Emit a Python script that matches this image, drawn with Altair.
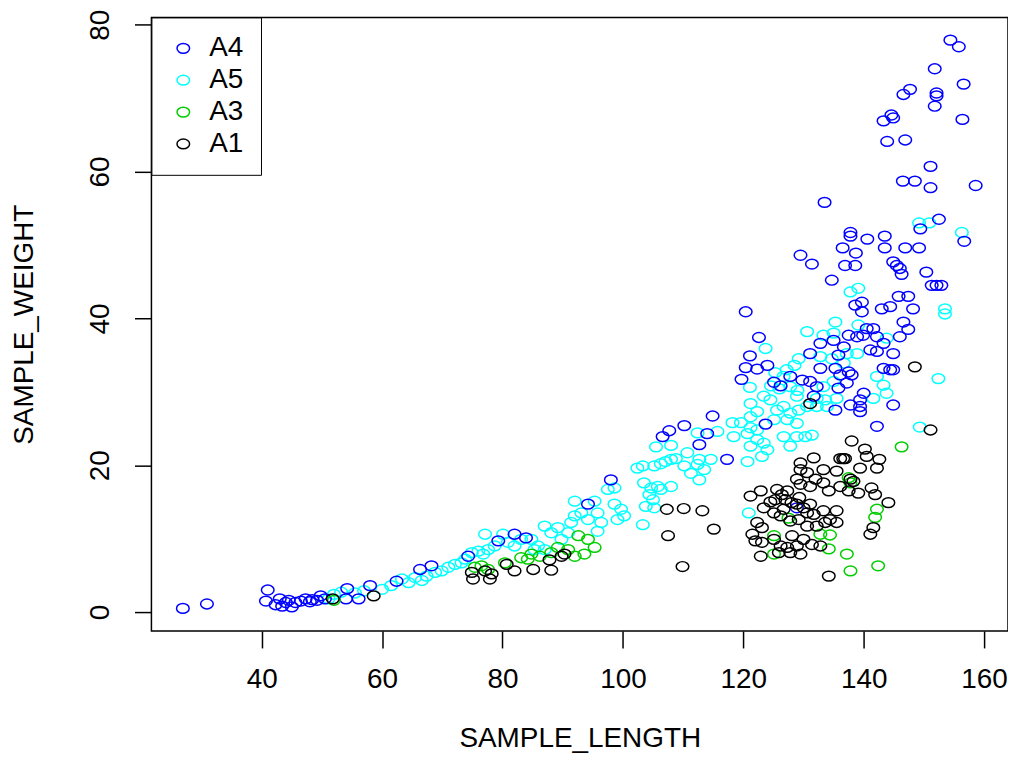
import altair as alt
import pandas as pd

# ---- data ----
groups = ["A4", "A5", "A3", "A1"]
group_colors = ["#0000FF", "#00FFFF", "#00CD00", "#000000"]
x_ticks = [40, 60, 80, 100, 120, 140, 160]
y_ticks = [0, 20, 40, 60, 80]

a4_x = [26.9, 30.9, 40.7, 41.0, 42.3, 43.0, 43.4, 44.0, 44.5, 45.0, 45.6, 46.5, 47.3, 48.0, 48.4,
        49.2, 49.8, 50.5, 54.0, 54.2, 56.1, 58.0, 62.4, 66.3, 68.2, 74.3, 79.3, 82.0, 83.9, 94.2,
        98.0, 106.6, 107.7, 110.2, 112.7, 114.0, 114.9, 117.3, 119.7, 120.4, 120.4, 121.1, 122.3,
        122.6, 123.7, 124.0, 125.1, 126.2, 127.8, 128.9, 129.5, 129.8, 131.1, 131.1, 131.4, 131.7,
        132.2, 132.8, 132.8, 133.5, 134.7, 135.0, 135.3, 135.3, 135.8, 135.8, 136.1, 136.5, 136.7,
        136.9, 137.2, 137.5, 137.5, 137.8, 137.8, 137.8, 138.0, 138.6, 138.6, 138.7, 138.9, 139.4,
        139.4, 139.4, 139.7, 139.7, 139.9, 140.0, 140.5, 140.6, 141.1, 141.6, 142.2, 142.2, 142.2,
        143.0, 143.3, 143.3, 143.3, 143.5, 143.5, 143.9, 144.4, 144.4, 144.6, 144.9, 144.9, 144.9,
        144.9, 144.9, 145.5, 145.8, 146.0, 146.0, 146.3, 146.5, 146.6, 146.6, 146.9, 146.9, 147.4,
        147.4, 147.7, 148.2, 148.5, 149.2, 149.4, 150.4, 151.1, 151.1, 151.3, 151.8, 151.8, 152.1,
        152.1, 152.1, 152.5, 152.9, 154.4, 155.8, 156.4, 156.6, 156.7, 158.6]
a4_y = [0.5, 1.1, 1.5, 3.0, 1.0, 1.8, 0.8, 1.3, 1.6, 0.7, 1.3, 1.5, 1.8, 1.4, 1.7,
        1.6, 2.2, 1.8, 1.8, 3.2, 1.8, 3.6, 4.2, 5.8, 6.3, 7.6, 9.7, 10.6, 10.1, 14.7,
        18.0, 23.9, 24.7, 25.4, 22.8, 24.3, 26.7, 20.8, 31.7, 33.3, 40.9, 34.9, 33.1,
        37.4, 25.6, 33.6, 31.3, 30.8, 32.1, 14.2, 48.6, 31.6, 31.4, 35.2, 47.4, 29.4,
        30.7, 33.2, 36.6, 55.8, 45.2, 37.0, 27.5, 33.2, 30.5, 35.0, 32.3, 49.6, 36.1,
        47.2, 31.2, 32.7, 37.7, 28.2, 51.2, 51.7, 32.3, 41.8, 47.2, 48.9, 37.5, 27.3,
        28.0, 28.9, 40.9, 42.2, 37.7, 29.8, 38.6, 50.8, 35.7, 38.6, 25.3, 35.5, 37.5,
        41.3, 33.2, 36.6, 66.9, 49.6, 51.2, 64.1, 33.0, 41.6, 67.7, 28.2, 33.0, 35.2,
        47.7, 67.3, 47.2, 43.0, 37.5, 46.8, 46.0, 58.7, 39.5, 70.5, 49.6, 64.3, 38.5,
        43.0, 71.2, 41.3, 58.7, 49.6, 52.2, 46.3, 57.8, 60.7, 44.5, 68.9, 74.0, 44.5,
        70.3, 70.7, 53.5, 44.5, 77.9, 77.0, 67.1, 71.9, 50.5, 58.1]

a5_x = [51.1, 52.0, 53.2, 55.5, 57.0, 60.0, 61.5, 63.3, 64.4, 65.5, 66.6, 67.4, 68.8, 69.9, 71.0,
        72.1, 73.2, 73.8, 74.9, 76.0, 76.8, 77.6, 78.7, 77.1, 80.1, 80.9, 82.0, 83.1, 84.8, 85.9,
        87.0, 88.1, 89.2, 89.8, 90.9, 91.4, 92.0, 92.0, 93.1, 94.2, 95.3, 95.8, 96.4, 97.5, 98.6,
        99.7, 100.2, 99.1, 102.4, 87.0, 85.3, 95.8, 98.6, 103.3, 105.2, 106.3, 107.1, 108.0, 108.8,
        103.5, 104.7, 105.8, 104.4, 105.0, 106.3, 108.0, 103.8, 105.2, 103.3, 105.5, 108.0, 110.2,
        112.4, 113.5, 111.3, 112.7, 110.7, 112.7, 114.6, 112.4, 115.7, 118.4, 120.7, 122.3, 123.4,
        126.7, 128.9, 130.3, 131.4, 121.2, 124.0, 127.8, 120.7, 123.1, 118.2, 119.6, 121.2, 122.3,
        121.2, 122.3, 123.4, 124.5, 125.6, 126.7, 127.8, 129.2, 130.6, 132.2, 133.6, 135.5, 125.1,
        127.3, 128.9, 121.2, 123.7, 121.1, 125.3, 126.0, 127.2, 128.5, 124.6, 129.0, 137.8, 139.1,
        153.5, 153.5, 135.3, 130.6, 133.3, 135.0, 139.1, 143.8, 129.2, 132.8, 134.7, 137.2, 138.9,
        136.7, 142.2, 143.3, 143.8, 152.4, 141.6, 133.9, 132.2, 128.9, 127.8, 126.7, 133.3, 135.0,
        149.3, 149.2, 150.9, 156.3, 120.9]
a5_y = [1.8, 2.4, 2.7, 2.6, 2.9, 3.1, 3.6, 4.5, 4.0, 4.7, 4.3, 4.9, 5.4, 5.6, 6.1,
        6.5, 6.7, 7.2, 8.1, 8.3, 7.9, 8.5, 9.0, 10.6, 10.6, 9.5, 9.0, 9.9, 9.9, 9.0,
        11.7, 10.8, 11.5, 9.9, 10.8, 12.2, 13.1, 15.1, 13.5, 12.6, 15.1, 13.5, 12.2, 16.7, 14.7,
        14.0, 13.1, 12.6, 19.6, 8.5, 8.5, 11.0, 16.9, 19.9, 19.9, 20.2, 20.5, 20.8, 20.9,
        17.6, 16.9, 17.1, 16.0, 15.3, 16.7, 17.1, 14.4, 14.2, 11.9, 22.5, 22.7, 19.9,
        20.1, 19.4, 18.9, 18.0, 21.7, 20.8, 20.8, 24.4, 24.6, 23.9, 24.3, 23.5, 23.0,
        23.9, 23.9, 23.9, 24.1, 22.6, 22.1, 22.6, 20.5, 21.2, 25.8, 25.8, 25.1, 24.8,
        28.4, 27.3, 29.4, 28.9, 27.5, 28.0, 27.1, 27.5, 28.0, 28.0, 28.9, 29.1, 26.2,
        26.2, 25.7, 26.6, 35.9, 30.6, 32.6, 30.4, 33.0, 33.6, 30.8, 30.2, 43.6, 44.1,
        41.3, 40.6, 39.5, 38.2, 37.7, 38.0, 39.1, 37.3, 34.5, 34.8, 34.5, 35.2, 35.2,
        33.9, 32.1, 30.9, 29.8, 31.8, 29.1, 28.0, 29.1, 29.4, 30.7, 32.1, 30.7, 31.4,
        25.2, 53.0, 53.0, 51.7, 13.5]

a3_x = [52.0, 75.4, 76.5, 77.6, 80.4, 83.1, 84.2, 84.8, 86.2, 88.1, 89.2, 90.9, 92.0, 92.6, 93.6,
        94.2, 95.3, 125.1, 127.5, 132.8, 134.4, 134.2, 137.2, 137.8, 142.4, 142.2, 141.9, 125.1,
        137.5, 137.8, 146.3]
a3_y = [1.6, 6.1, 6.3, 5.8, 6.7, 7.4, 7.2, 7.9, 7.6, 8.1, 8.8, 8.5, 7.6, 10.4, 7.9,
        9.9, 8.8, 10.4, 12.8, 10.6, 10.5, 8.6, 7.9, 5.6, 6.3, 14.0, 12.9, 7.9,
        18.3, 17.6, 22.5]

a1_x = [51.8, 58.6, 75.1, 74.9, 77.1, 77.9, 78.2, 80.7, 82.0, 85.1, 88.1, 87.8, 89.8, 90.3,
        107.3, 107.5, 110.1, 109.9, 113.2, 115.1, 131.1, 148.5, 151.1,
        138.0, 140.2, 140.5, 142.6, 142.2, 139.4, 136.6, 136.1, 136.9, 129.5, 131.7, 133.3, 135.5,
        129.5, 130.6, 132.0, 133.3, 131.1, 129.5, 128.9, 134.2, 136.1, 137.5, 139.1, 137.8, 138.3,
        121.2, 122.9, 125.6, 126.4, 127.3, 125.3, 127.0, 128.9, 130.0, 131.1, 130.6, 131.7, 133.3,
        135.5, 134.4, 135.5, 133.6, 132.2, 130.6, 129.2, 127.8, 126.2, 123.4, 125.1, 126.7, 121.5,
        122.3, 123.1, 122.0, 123.1, 125.1, 126.2, 127.3, 128.1, 128.9, 130.0, 131.4, 132.8, 122.9,
        125.9, 127.8, 129.5, 134.2, 141.6, 141.1, 144.1, 141.3, 141.9, 128.0, 129.3, 124.5]
a1_y = [1.8, 2.2, 4.5, 5.4, 5.6, 4.5, 5.2, 6.5, 5.6, 5.8, 5.7, 7.1, 7.6, 7.9,
        14.0, 10.4, 14.1, 6.2, 13.8, 11.3, 28.4, 33.4, 24.8,
        23.3, 22.2, 21.2, 20.8, 19.6, 19.6, 20.9, 20.9, 20.9, 20.3, 21.0, 19.4, 19.2,
        19.4, 19.0, 18.1, 17.6, 17.1, 17.4, 18.1, 16.5, 17.1, 16.5, 16.2, 18.1, 17.8,
        15.8, 16.5, 16.7, 16.0, 16.5, 15.3, 15.3, 14.7, 14.2, 14.7, 13.5, 13.3, 13.8,
        13.8, 12.6, 12.2, 12.2, 11.7, 11.7, 12.6, 12.4, 13.1, 14.2, 13.5, 14.0, 10.6,
        12.2, 11.5, 9.7, 9.5, 9.9, 9.0, 8.8, 10.4, 9.0, 9.9, 9.2, 9.0, 7.6,
        8.1, 8.1, 7.9, 4.9, 11.5, 10.6, 14.9, 16.9, 16.0, 14.9, 15.6, 15.0]

# ---- table (drawing order: A5, A4, A3, A1) ----
frames = []
for name, xs, ys in [("A5", a5_x, a5_y), ("A4", a4_x, a4_y), ("A3", a3_x, a3_y), ("A1", a1_x, a1_y)]:
    frames.append(pd.DataFrame({"SAMPLE_LENGTH": xs, "SAMPLE_WEIGHT": ys, "GROUP": name}))
df = pd.concat(frames, ignore_index=True)
df["draw"] = range(len(df))

ELLIPSE = "M -1 0 A 1 0.78 0 1 0 1 0 A 1 0.78 0 1 0 -1 0 Z"
FONT = "Liberation Sans"

chart = alt.Chart(df).mark_point(
    shape=ELLIPSE, size=160, filled=False, strokeWidth=1.5, opacity=1
).encode(
    x=alt.X("SAMPLE_LENGTH:Q",
            scale=alt.Scale(domain=[21.68, 163.97], nice=False, zero=False),
            axis=alt.Axis(values=x_ticks, title="SAMPLE_LENGTH", labelPadding=18,
                          titleX=430, titleY=116, titleAlign="center", titleBaseline="alphabetic",
                          labelFlush=False, labelOverlap=False)),
    y=alt.Y("SAMPLE_WEIGHT:Q",
            scale=alt.Scale(domain=[-2.58, 80.99], nice=False, zero=False),
            axis=alt.Axis(values=y_ticks, title="SAMPLE_WEIGHT", labelAngle=270,
                          labelAlign="center", labelBaseline="bottom", labelPadding=20,
                          titleX=-127, titleY=308, titleAngle=270, titleAlign="center",
                          titleBaseline="middle", labelFlush=False, labelOverlap=False)),
    color=alt.Color("GROUP:N",
                    scale=alt.Scale(domain=groups, range=group_colors),
                    legend=alt.Legend(title=None, orient="none", legendX=0, legendY=0,
                                      strokeColor="black", padding=17, rowPadding=4,
                                      symbolType=ELLIPSE, symbolSize=160, symbolStrokeWidth=1.5,
                                      symbolOffset=1, labelOffset=12, labelFontSize=28,
                                      labelFont=FONT, labelColor="black", fillColor="white")),
    order=alt.Order("draw:Q"),
).properties(
    width=860, height=616,
    autosize=alt.AutoSizeParams(type="none"),
    padding={"left": 144, "top": 8, "right": 0, "bottom": 121},
).configure_axis(
    grid=False, domain=False, tickColor="black", tickSize=17, tickWidth=1.5,
    labelFont=FONT, labelFontSize=28, labelColor="black",
    titleFont=FONT, titleFontSize=28, titleFontWeight="normal", titleColor="black",
).configure_view(
    stroke="black", strokeWidth=1.5
)

chart.save("out.html", embed_options={"renderer": "svg", "actions": False})
